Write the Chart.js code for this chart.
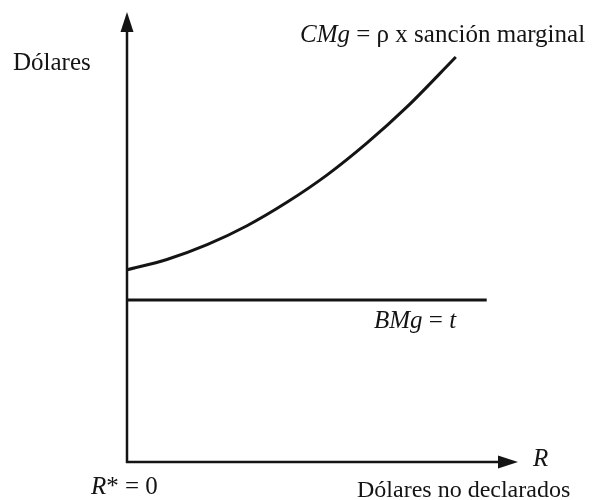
<!DOCTYPE html>
<html>
<head>
<meta charset="utf-8">
<script src="https://cdn.jsdelivr.net/npm/chart.js@4"></script>
<style>
  html, body { margin: 0; padding: 0; background: #fff; }
  #wrap { width: 592px; height: 500px; }
</style>
</head>
<body>
<div id="wrap"><canvas id="chart" width="592" height="500"></canvas></div>
<script>
// unreported dollars R (0..100) and dollar values (0..100)
const rValues = [0, 10.2, 20.5, 30.7, 40.9, 51.2, 61.4, 71.6, 84.1];
const cmgValues = [42.7, 45.0, 48.3, 52.5, 57.7, 63.8, 70.9, 78.9, 90.0];
const bmgR = [0, 92];
const bmgValue = 36;

const ink = '#141414';
const serif = '"Liberation Serif", "DejaVu Serif", serif';

const labelsPlugin = {
    id: 'axesAndLabels',
    beforeDatasetsDraw(chart) {
        const { ctx, chartArea } = chart;
        const x0 = chartArea.left, y0 = chartArea.bottom;
        ctx.save();
        ctx.strokeStyle = ink;
        ctx.fillStyle = ink;
        ctx.lineWidth = 2.5;
        // y axis
        ctx.beginPath();
        ctx.moveTo(x0, y0 + 1);
        ctx.lineTo(x0, chartArea.top + 14);
        ctx.stroke();
        ctx.beginPath();
        ctx.moveTo(x0, chartArea.top);
        ctx.lineTo(x0 - 6.5, chartArea.top + 20);
        ctx.lineTo(x0 + 6.5, chartArea.top + 20);
        ctx.closePath();
        ctx.fill();
        // x axis
        ctx.beginPath();
        ctx.moveTo(x0 - 1, y0);
        ctx.lineTo(chartArea.right - 14, y0);
        ctx.stroke();
        ctx.beginPath();
        ctx.moveTo(chartArea.right, y0);
        ctx.lineTo(chartArea.right - 20, y0 - 6.5);
        ctx.lineTo(chartArea.right - 20, y0 + 6.5);
        ctx.closePath();
        ctx.fill();
        ctx.restore();
    },
    afterDraw(chart) {
        const { ctx } = chart;
        ctx.save();
        ctx.fillStyle = ink;
        ctx.textBaseline = 'alphabetic';
        ctx.textAlign = 'left';
        const plain = '25px ' + serif;
        const ital = 'italic 25px ' + serif;

        function runs(x, y, parts) {
            parts.forEach(([text, font]) => {
                ctx.font = font;
                ctx.fillText(text, x, y);
                x += ctx.measureText(text).width;
            });
        }

        ctx.font = plain;
        ctx.fillText('Dólares', 13, 70);
        runs(300, 42, [['CMg', ital], [' = ρ x sanción marginal', plain]]);
        runs(374, 328, [['BMg', ital], [' = ', plain], ['t', ital]]);
        runs(533, 466, [['R', ital]]);
        runs(91, 494, [['R', ital], ['* = 0', plain]]);
        ctx.font = '24px ' + serif;
        ctx.fillText('Dólares no declarados', 357, 497);
        ctx.restore();
    }
};

new Chart(document.getElementById('chart'), {
    type: 'line',
    data: {
        datasets: [{
            label: 'CMg',
            data: rValues.map((r, i) => ({ x: r, y: cmgValues[i] })),
            borderColor: ink,
            borderWidth: 3,
            pointRadius: 0,
            cubicInterpolationMode: 'monotone',
            fill: false
        }, {
            label: 'BMg',
            data: bmgR.map(r => ({ x: r, y: bmgValue })),
            borderColor: ink,
            borderWidth: 3,
            pointRadius: 0,
            fill: false
        }]
    },
    options: {
        responsive: false,
        animation: false,
        layout: { padding: { left: 127, right: 74, top: 12, bottom: 38 } },
        plugins: { legend: { display: false }, tooltip: { enabled: false } },
        scales: {
            x: { type: 'linear', min: 0, max: 100, display: false },
            y: { type: 'linear', min: 0, max: 100, display: false }
        }
    },
    plugins: [labelsPlugin]
});
</script>
</body>
</html>
